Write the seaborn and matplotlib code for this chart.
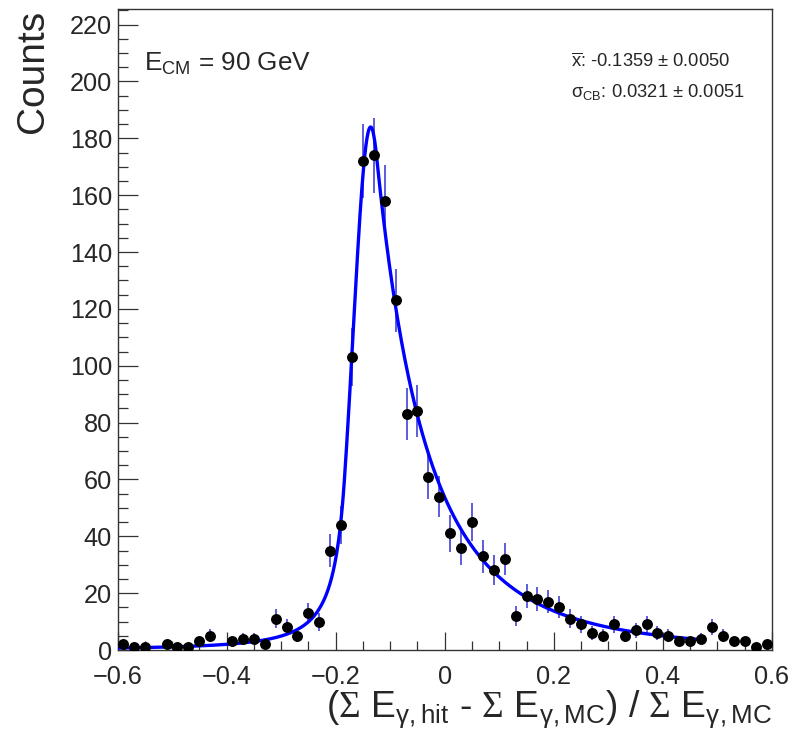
import numpy as np
import pandas as pd
import matplotlib
matplotlib.use("Agg")
import matplotlib.pyplot as plt
import seaborn as sns

# Histogram: bin centres (width 0.02 from -0.6 to 0.6) and entries per bin
bin_edges_lo = -0.6
bin_width = 0.02
counts = [2, 1, 1, 0, 2, 1, 1, 3, 5, 0,
          3, 4, 4, 2, 11, 8, 5, 13, 10, 35,
          44, 103, 172, 174, 158, 123, 83, 84, 61, 54,
          41, 36, 45, 33, 28, 32, 12, 19, 18, 17,
          15, 11, 9, 6, 5, 9, 5, 7, 9, 6,
          5, 3, 3, 4, 8, 5, 3, 3, 1, 2]

# Double-sided Crystal Ball fit result
cb_mean = -0.1359
cb_sigma = 0.0321
cb_norm = 184.0
cb_alpha_left, cb_n_left = 1.5, 1.8
cb_alpha_right, cb_n_right = 0.35, 4.0
fit_range = (-0.6, 0.468)

x_ticks = [-0.6, -0.4, -0.2, 0.0, 0.2, 0.4, 0.6]
x_tick_labels = ["\u22120.6", "\u22120.4", "\u22120.2", "0", "0.2", "0.4", "0.6"]
y_ticks = list(range(0, 221, 20))


def crystal_ball(x):
    t = (np.asarray(x) - cb_mean) / cb_sigma
    out = np.exp(-0.5 * t ** 2)
    lo = t < -cb_alpha_left
    hi = t > cb_alpha_right
    out[lo] = np.exp(-0.5 * cb_alpha_left ** 2) * (
        1 + cb_alpha_left * (-t[lo] - cb_alpha_left) / cb_n_left) ** (-cb_n_left)
    out[hi] = np.exp(-0.5 * cb_alpha_right ** 2) * (
        1 + cb_alpha_right * (t[hi] - cb_alpha_right) / cb_n_right) ** (-cb_n_right)
    return cb_norm * out


sns.set_style("ticks")
plt.rcParams["font.family"] = ["Liberation Sans", "DejaVu Sans"]
plt.rcParams["mathtext.fontset"] = "custom"
plt.rcParams["mathtext.rm"] = "Liberation Sans"
plt.rcParams["mathtext.it"] = "Liberation Sans:italic"
plt.rcParams["mathtext.bf"] = "Liberation Sans:bold"
plt.rcParams["mathtext.cal"] = "Liberation Serif"

centers = bin_edges_lo + bin_width * (np.arange(len(counts)) + 0.5)
hist = pd.DataFrame({"x": centers, "n": counts})
hist = hist[hist["n"] > 0]
hist["err"] = np.sqrt(hist["n"])

xf = np.linspace(fit_range[0], fit_range[1], 1000)
fit = pd.DataFrame({"x": xf, "y": crystal_ball(xf)})

fig = plt.figure(figsize=(8.05, 7.41), dpi=100)
ax = fig.add_axes([117.5 / 805, 1 - 650 / 741, (772 - 117.5) / 805, (650 - 9) / 741])

ax.vlines(hist["x"], hist["n"] - hist["err"], hist["n"] + hist["err"],
          color="#4242d4", lw=1.2, zorder=2)
sns.lineplot(data=fit, x="x", y="y", ax=ax, color="#0000ff", lw=2.4,
             zorder=3, legend=False)
sns.scatterplot(data=hist, x="x", y="n", ax=ax, color="black", s=62,
                edgecolor="black", linewidth=0, zorder=4, legend=False)

ax.set_xlim(-0.6, 0.6)
ax.set_ylim(0, 225.5)
ax.set_xticks(x_ticks)
ax.set_xticklabels(x_tick_labels)
ax.set_yticks(y_ticks)
ax.set_xticks(np.arange(-0.6, 0.601, 0.05), minor=True)
ax.set_yticks(np.arange(0, 226, 5), minor=True)

ax.tick_params(axis="both", which="both", direction="in", width=0.9,
               color="#333333", labelsize=18.2, top=False, right=False)
ax.tick_params(axis="y", which="major", length=14.5, pad=4)
ax.tick_params(axis="y", which="minor", length=7.2)
ax.tick_params(axis="x", which="major", length=13, pad=10.5)
ax.tick_params(axis="x", which="minor", length=6.5)
for lbl in ax.get_yticklabels():
    lbl.set_va("center_baseline")
for s in ax.spines.values():
    s.set_visible(True)
    s.set_linewidth(1.0)
    s.set_color("#333333")

ax.set_xlabel(r"($\mathcal{Σ}$ E$_{\mathrm{γ,hit}}$ - $\mathcal{Σ}$ E$_{\mathrm{γ,MC}}$) / "
              r"$\mathcal{Σ}$ E$_{\mathrm{γ,MC}}$",
              fontsize=26.8, loc="right", va="baseline")
ax.xaxis.set_label_coords(1.0, (650 - 716.7) / 641)
ax.set_ylabel("Counts", fontsize=28, loc="top", va="baseline")
ax.yaxis.set_label_coords((43.3 - 117.5) / 654.5, 1.0 - 1 / 641)

ax.text((144 - 117.5) / 654.5, (650 - 70.7) / 641, r"E$_{\mathrm{CM}}$ = 90 GeV",
        transform=ax.transAxes, fontsize=18.8, ha="left", va="baseline")
ax.text((571 - 117.5) / 654.5, (650 - 66.7) / 641,
        r"$\overline{\mathrm{x}}$: -0.1359 $\pm$ 0.0050",
        transform=ax.transAxes, fontsize=13.2, ha="left", va="baseline")
ax.text((571 - 117.5) / 654.5, (650 - 96.7) / 641,
        r"$\mathrm{σ}_{\mathrm{CB}}$: 0.0321 $\pm$ 0.0051",
        transform=ax.transAxes, fontsize=13.2, ha="left", va="baseline")

fig.savefig("out.png", dpi=100)
